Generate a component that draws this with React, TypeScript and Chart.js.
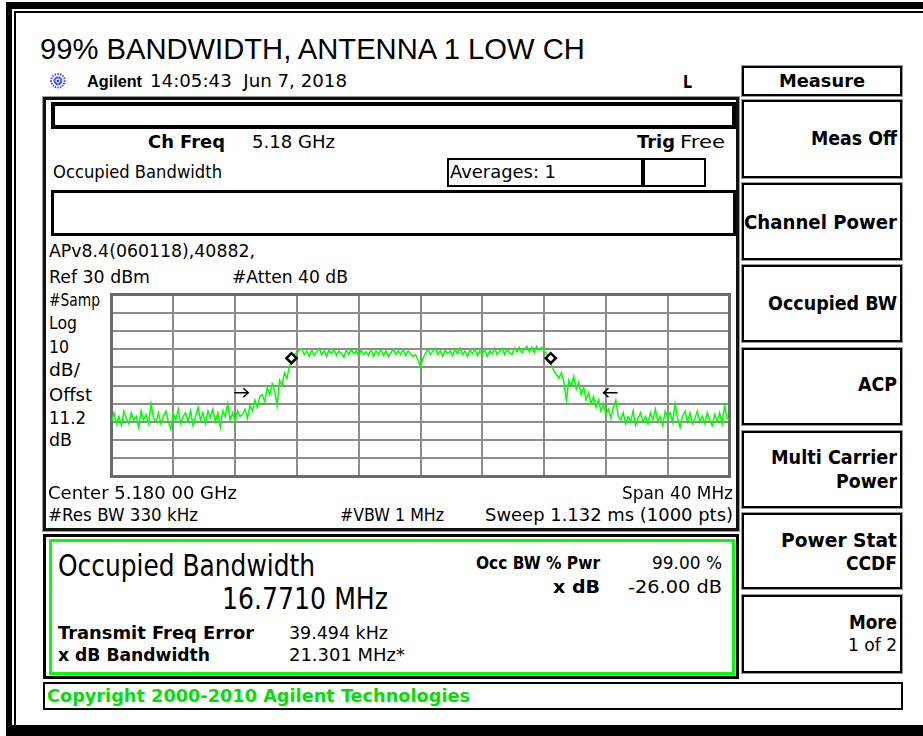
import React, { useEffect, useRef } from 'react';
import { Chart, registerables } from 'chart.js';

Chart.register(...registerables);

// ---------- data ----------
const CENTER_MHZ = 5180;
const SPAN_MHZ = 40;
const REF_DBM = 30;
const DB_PER_DIV = 10;
const DIVS = 10;

const floorLeft = [
  -40, -35, -41, -37, -42, -34, -38, -41, -35, -39,
  -37, -43, -34, -39, -36, -41, -30, -38, -40, -35,
  -41, -37, -34, -40, -44, -35, -39, -33, -41, -37,
  -35, -40, -34, -42, -37, -32, -39, -35, -41, -34,
  -38, -33, -40, -35, -43, -34, -37, -30, -39, -35,
  -40, -34, -37,
];
const risingEdge = [
  -36, -33, -38, -31, -34, -28, -32, -26, -25, -29,
  -21, -25, -19, -23, -31, -17, -20, -13, -16, -9,
  -7, -3, -2, -0.5,
];
const plateau = [
  0, -3, -1, -4, -0.5, -3.5, -1.5, 0.5, -3, -1,
  -4, -0.5, -2.5, 0, -3.5, -1, -2.5, -4.5, -0.5, -3,
  0, -2.5, -1, -4, -0.5, -3, -1.5, -3.5, 0, -4,
  -1, -3, 0, -3.5, -1, -4, -2, 0, -3, -1,
  -3, 0, -3.5, -1, -2.5, -4, -3, -6, -10, -5,
  -2.5, 0, -3, -1, 0.5, -3, -1, -4, -0.5, -2.5,
  -1, -3.5, 0, -2.5, 0.5, -3, -1, -4, -0.5, -2.5,
  0, -3.5, -1, -3, 0, -4, -1, -2.5, 0.5, -3,
  -1, 0.5, -3, 0, -2, -3, 0.5, -1.5, 1, -2,
  0, 1.5, -1.5, 1, -2, 1.5, -0.5, 1, -1,
];
const fallingEdge = [
  -2.5, -5, -9, -12, -14, -16, -13, -18, -28, -17,
  -20, -15, -22, -18, -25, -21, -28, -24, -30, -26,
  -32, -28, -34, -30, -36, -33, -38, -32, -28, -37,
];
const floorRight = [
  -39, -35, -41, -37, -40, -34, -42, -38, -35, -40,
  -37, -41, -35, -39, -33, -40, -37, -42, -34, -38,
  -35, -40, -30, -38, -43, -37, -34, -40, -35, -41,
  -38, -34, -40, -37, -41, -35, -39, -42, -36, -40,
  -35, -41, -31, -38, -39,
];
const traceDbm = [...floorLeft, ...risingEdge, ...plateau, ...fallingEdge, ...floorRight];

const markerFreqs = [5171.65, 5188.43];
const markerLevels = [-5, -5];
const arrowFreqs = [5168.4, 5192.3];
const arrowLevels = [-24, -24];
const arrowDirs = [1, -1];

// ---------- text helpers ----------
const INST = '"DejaVu Sans"';
const SANS = '"Liberation Sans", Arial';
const mctx = document.createElement('canvas').getContext('2d') as CanvasRenderingContext2D;

type TP = { t: string; x: number; y: number; w: number; s?: number; b?: boolean; c?: string; f?: string };
function T({ t, x, y, w, s = 17, b = false, c = '#000', f = INST }: TP) {
  mctx.font = `${b ? 'bold ' : ''}${s}px ${f}`;
  const mw = mctx.measureText(t).width || 1;
  const k = w / mw;
  return (
    <span
      style={{
        position: 'absolute',
        left: x,
        top: y - 0.485 * s,
        fontFamily: f,
        fontSize: s,
        fontWeight: b ? 700 : 400,
        lineHeight: `${s}px`,
        whiteSpace: 'pre',
        color: c,
        transform: `scaleX(${k})`,
        transformOrigin: '0 0',
      }}
    >
      {t}
    </span>
  );
}

type BP = { l: number; t: number; r: number; b: number; bw?: number; bc?: string; sh?: boolean };
function Box({ l, t, r, b, bw = 2, bc = '#000', sh = false }: BP) {
  return (
    <div
      style={{
        position: 'absolute',
        left: l,
        top: t,
        width: r - l,
        height: b - t,
        border: `${bw}px solid ${bc}`,
        boxSizing: 'border-box',
        boxShadow: sh ? '0 0 0 1px #9a9a9a' : undefined,
      }}
    />
  );
}
function Bar({ l, t, w, h }: { l: number; t: number; w: number; h: number }) {
  return <div style={{ position: 'absolute', left: l, top: t, width: w, height: h, background: '#000' }} />;
}

// ---------- chart ----------
const graticulePlugin = {
  id: 'graticuleFrame',
  beforeDatasetsDraw(chart: any) {
    const { ctx, chartArea: a } = chart;
    ctx.save();
    ctx.strokeStyle = '#6a6a6a';
    ctx.lineWidth = 3;
    ctx.strokeRect(a.left, a.top, a.right - a.left, a.bottom - a.top);
    ctx.restore();
  },
  afterDatasetsDraw(chart: any) {
    const { ctx, scales } = chart;
    ctx.save();
    ctx.strokeStyle = '#000';
    ctx.lineWidth = 1.5;
    arrowFreqs.forEach((f, i) => {
      const px = scales.x.getPixelForValue(f);
      const py = scales.y.getPixelForValue(arrowLevels[i]);
      const d = arrowDirs[i];
      const tip = px + d * 7;
      ctx.beginPath();
      ctx.moveTo(px - d * 7, py);
      ctx.lineTo(tip, py);
      ctx.moveTo(tip - d * 5, py - 4.5);
      ctx.lineTo(tip, py);
      ctx.lineTo(tip - d * 5, py + 4.5);
      ctx.stroke();
    });
    ctx.restore();
  },
};

function Trace() {
  const ref = useRef<HTMLCanvasElement | null>(null);
  useEffect(() => {
    if (!ref.current) return;
    const start = CENTER_MHZ - SPAN_MHZ / 2;
    const stop = CENTER_MHZ + SPAN_MHZ / 2;
    const step = SPAN_MHZ / (traceDbm.length - 1);
    const grid = { color: '#8c8c8c', lineWidth: 2, drawTicks: false };
    const border = { display: true, color: '#6a6a6a', width: 3 };
    const chart = new Chart(ref.current, {
      type: 'line',
      data: {
        datasets: [
          {
            data: traceDbm.map((v, i) => ({ x: start + i * step, y: v })),
            borderColor: '#00ff00',
            borderWidth: 1.5,
            pointRadius: 0,
            tension: 0,
            order: 2,
          } as any,
          {
            type: 'scatter',
            data: markerFreqs.map((f, i) => ({ x: f, y: markerLevels[i] })),
            pointStyle: 'rectRot',
            pointRadius: 5,
            borderColor: '#000',
            borderWidth: 2.5,
            backgroundColor: '#fff',
            order: 1,
          } as any,
        ],
      },
      options: {
        animation: false,
        responsive: false,
        events: [],
        layout: { padding: 4 },
        plugins: { legend: { display: false }, tooltip: { enabled: false } },
        scales: {
          x: {
            type: 'linear',
            min: start,
            max: stop,
            ticks: { display: false, stepSize: SPAN_MHZ / DIVS },
            grid,
            border,
          },
          y: {
            type: 'linear',
            min: REF_DBM - DB_PER_DIV * DIVS,
            max: REF_DBM,
            ticks: { display: false, stepSize: DB_PER_DIV },
            grid,
            border,
          },
        },
      } as any,
      plugins: [graticulePlugin],
    });
    return () => chart.destroy();
  }, []);
  return (
    <canvas
      ref={ref}
      width={633}
      height={197}
      style={{ position: 'absolute', left: 104, top: 287, width: 633, height: 197 }}
    />
  );
}

function Sun() {
  const rays = [0, 22.5, 45, 67.5, 90, 112.5, 135, 157.5];
  return (
    <svg style={{ position: 'absolute', left: 49, top: 72 }} width={18} height={18} viewBox="0 0 18 18">
      {rays.map((a) => {
        const r = (a * Math.PI) / 180;
        const c = Math.cos(r) * 8;
        const s = Math.sin(r) * 8;
        return (
          <line key={a} x1={9 - c} y1={9 - s} x2={9 + c} y2={9 + s} stroke="#2b3cff" strokeWidth={1.3} strokeDasharray="2 1.4" />
        );
      })}
    </svg>
  );
}

const softkeys: [number, number][] = [
  [100, 178], [183, 260], [265, 342], [348, 425], [431, 508], [513, 589], [595, 673],
];

export default function App() {
  return (
    <div style={{ position: 'absolute', left: 0, top: 0, width: 923, height: 736, background: '#fff', overflow: 'hidden' }}>
      {/* outer frame */}
      <Bar l={6} t={2} w={917} h={7} />
      <Bar l={14} t={11} w={909} h={2} />
      <Bar l={6} t={2} w={6} h={734} />
      <Bar l={14} t={11} w={2} h={714} />
      <Bar l={6} t={725} w={917} h={11} />

      <T t="99% BANDWIDTH, ANTENNA 1 LOW CH" x={40} y={49} w={548} s={29} f={SANS} />

      <Sun />
      <T t="Agilent" x={87} y={81} w={55} s={17} b f={SANS} />
      <T t="14:05:43  Jun 7, 2018" x={150} y={81} w={197} />
      <T t="L" x={683} y={82} w={9} b />

      {/* main instrument panel */}
      <Box l={43} t={97} r={739} b={531} bw={3} bc="#111" sh />
      <Box l={51} t={102} r={736} b={129} bw={4} />
      <T t="Ch Freq" x={148} y={142} w={77} b />
      <T t="5.18 GHz" x={252} y={142} w={83} />
      <T t="Trig" x={637} y={142} w={38} b />
      <T t="Free" x={680} y={142} w={45} />
      <T t="Occupied Bandwidth" x={53} y={172} w={169} />
      <Box l={447} t={158} r={706} b={187} bw={2} />
      <Bar l={641} t={158} w={4} h={29} />
      <T t="Averages: 1" x={450} y={172} w={106} />
      <Box l={51} t={190} r={736} b={236} bw={3} />

      <T t="APv8.4(060118),40882," x={49} y={251} w={206} />
      <T t="Ref 30 dBm" x={49} y={277} w={101} />
      <T t="#Atten 40 dB" x={232} y={277} w={116} />
      <T t="#Samp" x={49} y={300} w={51} />
      <T t="Log" x={49} y={323} w={28} />
      <T t="10" x={49} y={347} w={20} />
      <T t="dB/" x={49} y={370} w={31} />
      <T t="Offst" x={49} y={395} w={43} />
      <T t="11.2" x={49} y={418} w={37} />
      <T t="dB" x={49} y={440} w={23} />

      <Trace />

      <T t="Center 5.180 00 GHz" x={48} y={493} w={189} />
      <T t="Span 40 MHz" x={622} y={493} w={111} />
      <T t="#Res BW 330 kHz" x={48} y={515} w={150} />
      <T t="#VBW 1 MHz" x={340} y={515} w={104} />
      <T t="Sweep 1.132 ms (1000 pts)" x={485} y={515} w={248} />

      {/* results panel */}
      <Box l={43} t={534} r={739} b={679} bw={3} />
      <Box l={49} t={539} r={735} b={675} bw={3} bc="#00ff00" />
      <T t="Occupied Bandwidth" x={58} y={566} w={257} s={30} />
      <T t="16.7710 MHz" x={222} y={599} w={166} s={30} />
      <T t="Occ BW % Pwr" x={476} y={563} w={124} b />
      <T t="99.00 %" x={652} y={563} w={70} />
      <T t="x dB" x={553} y={587} w={47} b />
      <T t="-26.00 dB" x={628} y={587} w={94} />
      <T t="Transmit Freq Error" x={58} y={633} w={196} b />
      <T t="39.494 kHz" x={289} y={633} w={99} />
      <T t="x dB Bandwidth" x={58} y={655} w={152} b />
      <T t="21.301 MHz*" x={289} y={655} w={116} />

      <Box l={43} t={682} r={903} b={710} bw={2} />
      <T t="Copyright 2000-2010 Agilent Technologies" x={47} y={696} w={423} s={18} b c="#00e000" />

      {/* softkeys */}
      <Box l={742} t={66} r={902} b={96} bw={2} sh />
      <T t="Measure" x={779} y={81} w={86} b />
      {softkeys.map(([t, b], i) => (
        <Box key={i} l={742} t={t} r={902} b={b} bw={2} sh />
      ))}
      <T t="Meas Off" x={811} y={138} w={86} s={19} b />
      <T t="Channel Power" x={744} y={222} w={153} s={19} b />
      <T t="Occupied BW" x={768} y={303} w={129} s={19} b />
      <T t="ACP" x={858} y={384} w={39} s={19} b />
      <T t="Multi Carrier" x={771} y={457} w={126} s={19} b />
      <T t="Power" x={836} y={481} w={61} s={19} b />
      <T t="Power Stat" x={781} y={540} w={116} s={19} b />
      <T t="CCDF" x={846} y={563} w={51} s={19} b />
      <T t="More" x={849} y={622} w={48} s={19} b />
      <T t="1 of 2" x={848} y={645} w={49} s={17} />
    </div>
  );
}
